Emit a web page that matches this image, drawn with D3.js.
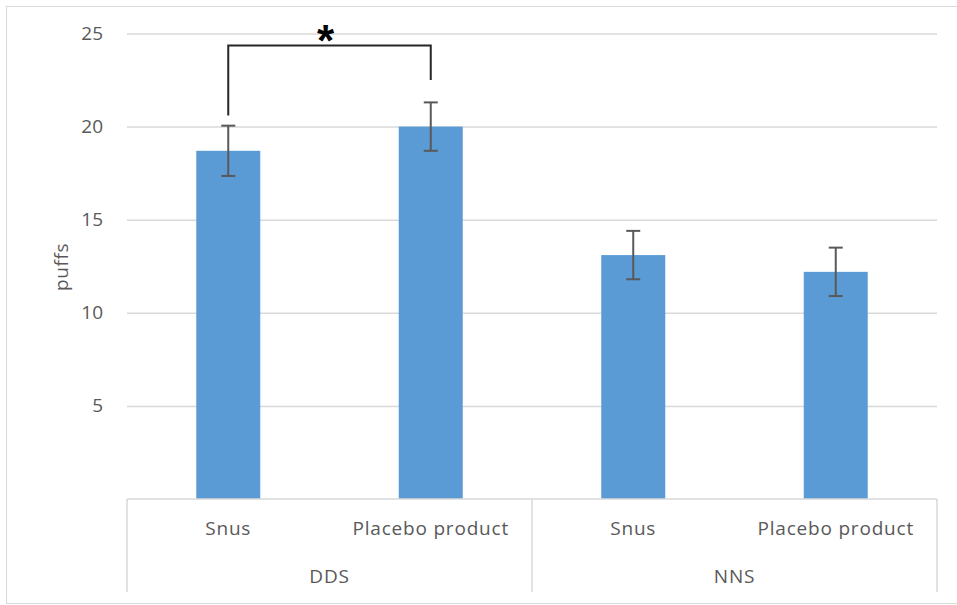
<!DOCTYPE html>
<html>
<head>
<meta charset="utf-8">
<script src="https://cdn.jsdelivr.net/npm/d3@7"></script>
<style>
  html, body { margin: 0; padding: 0; background: #fff; }
  svg { display: block; }
  text { font-family: "Open Sans", "Noto Sans", sans-serif; fill: #595959; }
</style>
</head>
<body>
<svg id="chart" width="957" height="605"></svg>
<script>
// Puffs per condition: group (DDS / NNS) × product (Snus / Placebo product)
const groups = ["DDS", "NNS"];
const products = ["Snus", "Placebo product"];
const ddsMeans = [18.7, 20.0];
const nnsMeans = [13.1, 12.2];
const ddsErrors = [1.35, 1.3];
const nnsErrors = [1.3, 1.3];
const yTicks = [5, 10, 15, 20, 25];
const yLabel = "puffs";

// Significance bracket between DDS Snus and DDS Placebo product (in puff units)
const sigGroup = "DDS";
const sigTop = 24.35;
const sigLeftEnd = 20.6;
const sigRightEnd = 22.5;
const sigMark = "*";

const rows = [];
groups.forEach((g, gi) => {
  const means = gi === 0 ? ddsMeans : nnsMeans;
  const errs = gi === 0 ? ddsErrors : nnsErrors;
  products.forEach((p, pi) => rows.push({ group: g, product: p, value: means[pi], err: errs[pi] }));
});

const svg = d3.select("#chart");
const plot = { left: 127, right: 937, top: 33.5, bottom: 499 };

// outer chart frame
svg.append("rect")
  .attr("x", 6.5).attr("y", 6.5).attr("width", 960).attr("height", 597)
  .attr("fill", "none").attr("stroke", "#d9d9d9").attr("stroke-width", 1);

const y = d3.scaleLinear().domain([0, 25]).range([plot.bottom, plot.top]);
const x0 = d3.scaleBand().domain(groups).range([plot.left, plot.right]);
const pad = 0.684;
const x1 = d3.scaleBand().domain(products).range([0, x0.bandwidth()])
  .paddingInner(pad).paddingOuter(pad / 2);

// gridlines + tick labels
const yAxis = d3.axisLeft(y).tickValues(yTicks).tickSize(-(plot.right - plot.left)).tickPadding(20);
const ya = svg.append("g").attr("transform", `translate(${plot.left},0)`).call(yAxis);
ya.select(".domain").remove();
ya.selectAll(".tick line").attr("stroke", "#d9d9d9").attr("stroke-width", 1.5);
ya.selectAll(".tick text")
  .attr("x", -24)
  .style("font-size", "19px").style("font-family", "'Open Sans', sans-serif").attr("fill", "#595959");

// y axis title
svg.append("text")
  .attr("transform", `translate(68, 267) rotate(-90)`)
  .attr("text-anchor", "middle")
  .style("font-size", "19px").style("letter-spacing", "0.6px")
  .text(yLabel);

// bars
const barX = d => x0(d.group) + x1(d.product);
svg.append("g").selectAll("rect").data(rows).join("rect")
  .attr("x", barX)
  .attr("y", d => y(d.value))
  .attr("width", x1.bandwidth())
  .attr("height", d => y(0) - y(d.value))
  .attr("fill", "#5b9bd5");

// error bars
const cap = 7;
const eb = svg.append("g").attr("stroke", "#595959").attr("stroke-width", 2).attr("fill", "none");
rows.forEach(d => {
  const cx = barX(d) + x1.bandwidth() / 2;
  eb.append("line").attr("x1", cx).attr("x2", cx).attr("y1", y(d.value + d.err)).attr("y2", y(d.value - d.err));
  eb.append("line").attr("x1", cx - cap).attr("x2", cx + cap).attr("y1", y(d.value + d.err)).attr("y2", y(d.value + d.err));
  eb.append("line").attr("x1", cx - cap).attr("x2", cx + cap).attr("y1", y(d.value - d.err)).attr("y2", y(d.value - d.err));
});

// category axis: baseline, group separators, labels
const cat = svg.append("g").attr("stroke", "#d9d9d9").attr("stroke-width", 1.5);
cat.append("line").attr("x1", plot.left).attr("x2", plot.right).attr("y1", y(0)).attr("y2", y(0));
const seps = [plot.left, x0("NNS"), plot.right];
seps.forEach(sx => {
  cat.append("line").attr("x1", sx).attr("x2", sx).attr("y1", y(0)).attr("y2", 592);
});

svg.append("g").selectAll("text").data(rows).join("text")
  .attr("x", d => barX(d) + x1.bandwidth() / 2)
  .attr("y", 535)
  .attr("text-anchor", "middle")
  .style("font-size", "19px").style("letter-spacing", "0.8px")
  .text(d => d.product);

svg.append("g").selectAll("text").data(groups).join("text")
  .attr("x", g => x0(g) + x0.bandwidth() / 2)
  .attr("y", 583)
  .attr("text-anchor", "middle")
  .style("font-size", "19px").style("letter-spacing", "0.8px")
  .text(g => g);

// significance bracket
const lx = x0(sigGroup) + x1(products[0]) + x1.bandwidth() / 2;
const rx = x0(sigGroup) + x1(products[1]) + x1.bandwidth() / 2;
svg.append("path")
  .attr("d", `M${lx},${y(sigLeftEnd)} V${y(sigTop)} H${rx} V${y(sigRightEnd)}`)
  .attr("fill", "none").attr("stroke", "#262626").attr("stroke-width", 2);

svg.append("text")
  .attr("x", (lx + rx) / 2 - 4)
  .attr("y", 56)
  .attr("text-anchor", "middle")
  .style("font-family", "'Liberation Sans', Arial, sans-serif")
  .style("font-weight", "bold").style("font-size", "44px")
  .attr("fill", "#000")
  .style("fill", "#000")
  .text(sigMark);
</script>
</body>
</html>
